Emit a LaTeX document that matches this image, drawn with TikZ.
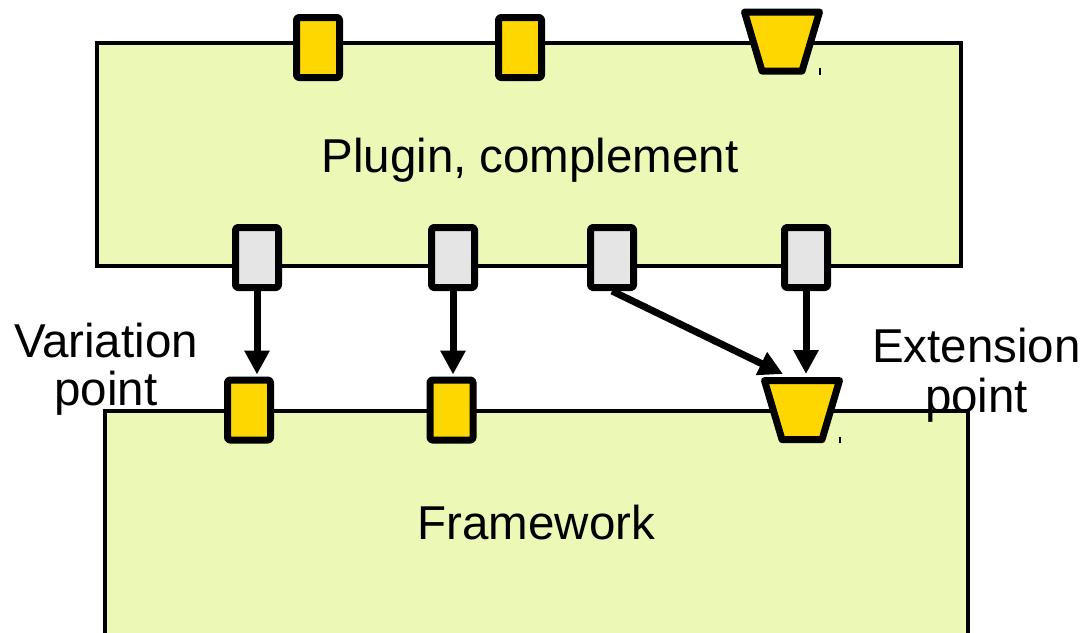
\documentclass[tikz,border=0pt]{standalone}
\usepackage{fontspec}
\setmainfont{Liberation Sans}
\usetikzlibrary{arrows.meta,calc}
\definecolor{panelgreen}{RGB}{236,248,182}
\definecolor{portyellow}{RGB}{255,215,0}
\definecolor{portgray}{RGB}{229,229,229}
\tikzset{
  panel/.style={draw=black,line width=3.5,fill=panelgreen},
  port/.style={draw=black,line width=7,rounded corners=2.5,minimum width=43,minimum height=60,inner sep=0,line join=round},
  vport/.style={port,fill=portyellow},
  gport/.style={port,fill=portgray},
  extport/.style={draw=black,line width=7,line join=round,fill=portyellow},
  link/.style={line width=7,-{Triangle[length=24,width=24]}},
  lbl/.style={font=\fontsize{47.5}{48}\selectfont,inner sep=0},
  tick/.style={line width=1.2}
}
\begin{document}
\begin{tikzpicture}[x=1pt,y=-1pt]
\useasboundingbox (0,0) rectangle (1083,632);
\clip (0,0) rectangle (1083,632);
% panels
\draw[panel] (97,43) rectangle (961,266);
\draw[panel] (105,411) rectangle (968,680);
\node[lbl,anchor=base] (plugin) at (530,172) {Plugin, complement};
\node[lbl,anchor=base] (fw) at (536.5,539) {Framework};
% top ports
\node[vport] (p1) at (318,47.5) {};
\node[vport] (p2) at (520,47.5) {};
\coordinate (pt) at (782,41.5);
\draw[extport] ($(pt)+(-37.5,-29.5)$) -- ($(pt)+(37.5,-29.5)$) -- ($(pt)+(20,29.5)$) -- ($(pt)+(-20,29.5)$) -- cycle;
\draw[tick] (820,68) -- (820,75);
% gray ports
\node[gport] (g1) at (257,257.5) {};
\node[gport] (g2) at (453,257.5) {};
\node[gport] (g3) at (612,257.5) {};
\node[gport] (g4) at (806,257.5) {};
% framework ports
\node[vport] (b1) at (249,410) {};
\node[vport] (b2) at (451.5,410) {};
\coordinate (bt) at (802,410);
\coordinate (btop) at (802,377);
\draw[extport] ($(bt)+(-37.5,-29.5)$) -- ($(bt)+(37.5,-29.5)$) -- ($(bt)+(20,29.5)$) -- ($(bt)+(-20,29.5)$) -- cycle;
\draw[tick] (840,437) -- (840,443);
% links
\coordinate (dtip) at (783,374);
\draw[link,shorten >=2] (g1.south) -- (g1.south |- b1.north);
\draw[link,shorten >=2] (g2.south) -- (g2.south |- b2.north);
\draw[link] (g3.south) -- (dtip);
\draw[link,shorten >=3] (g4.south) -- (g4.south |- btop);
% labels
\node[lbl,align=center,anchor=base] (vp) at (106,405) {Variation\\point};
\node[lbl,align=center,anchor=base,font=\fontsize{47.5}{50}\selectfont] (ep) at (976.5,412) {Extension\\point};
\end{tikzpicture}
\end{document}
